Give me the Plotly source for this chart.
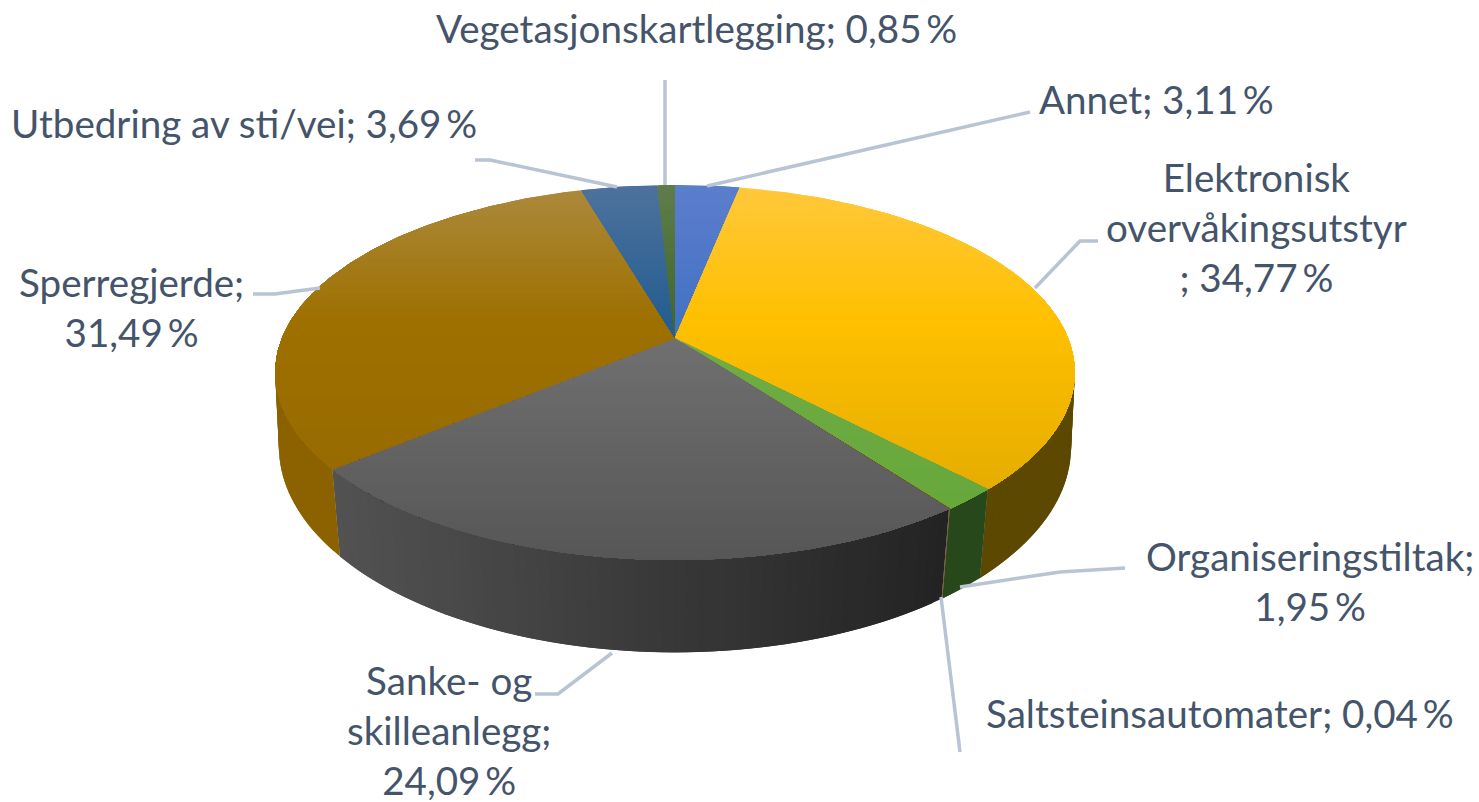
import numpy as np
import plotly.graph_objects as go

# ---- data -----------------------------------------------------------
categories = ["Annet", "Elektronisk overvåkingsutstyr", "Organiseringstiltak",
              "Saltsteinsautomater", "Sanke- og skilleanlegg", "Sperregjerde",
              "Utbedring av sti/vei", "Vegetasjonskartlegging"]
values = [3.11, 34.77, 1.95, 0.04, 24.09, 31.49, 3.69, 0.85]
label_names = ["Annet;", "Elektronisk<br>overvåkingsutstyr<br>;", "Organiseringstiltak;<br>",
               "Saltsteinsautomater;", "Sanke- og<br>skilleanlegg;<br>", "Sperregjerde;<br>",
               "Utbedring av sti/vei;", "Vegetasjonskartlegging;"]
label_x = [1156, 1256, 1310, 1220, 449, 131, 244, 696]
label_y = [99, 227, 581, 713, 730, 307, 123, 28]

# ---- styles (top gradient: far edge, middle, near edge) ---------------
top_colors = [
    ((92, 126, 204), (68, 114, 196), (60, 105, 185)),
    ((255, 200, 60), (255, 192, 0), (219, 165, 0)),
    ((128, 190, 95), (112, 173, 71), (100, 166, 56)),
    ((150, 90, 40), (140, 80, 35), (130, 75, 30)),
    ((125, 125, 125), (114, 114, 114), (86, 86, 86)),
    ((172, 138, 62), (158, 112, 0), (148, 104, 0)),
    ((78, 114, 156), (37, 94, 145), (30, 88, 145)),
    ((95, 125, 75), (67, 104, 43), (67, 104, 43)),
]
wall_left = [(38, 68, 120), (92, 72, 0), (38, 72, 26), (120, 70, 30),
             (82, 82, 82), (140, 98, 0), (22, 56, 90), (40, 62, 26)]
wall_right = [(38, 68, 120), (92, 72, 0), (38, 72, 26), (120, 70, 30),
              (35, 35, 35), (125, 86, 0), (22, 56, 90), (40, 62, 26)]
TEXT = "#44546A"
LEADER = "#B8C4D4"
FONT = "Lato"
FONT_SIZE = 38.6

# perspective projection of the pie discs: (cx, C, k, A, B)
TOP_DISC = (675, 393, 0.184, -119, 338)
BOT_DISC = (675, 391, 0.160, -134, 414)
Y_FAR, Y_MID, Y_NEAR = 185, 320, 560


def project(theta, r, disc):
    cx, c, k, a, b = disc
    u, v = r * np.sin(theta), r * np.cos(theta)
    d = 1 + k * v
    return cx + c * u / d, (a * v + b) / d


def rgb(c):
    return "rgb(%d,%d,%d)" % tuple(int(round(x)) for x in c)


def mix(p, q, t):
    return tuple(a + (b - a) * t for a, b in zip(p, q))


def clip_below(xs, ys, y0):
    """Keep the part of a convex polygon with y >= y0."""
    ox, oy = [], []
    n = len(xs)
    for i in range(n):
        x1, y1, x2, y2 = xs[i], ys[i], xs[(i + 1) % n], ys[(i + 1) % n]
        if y1 >= y0:
            ox.append(x1); oy.append(y1)
        if (y1 >= y0) != (y2 >= y0):
            t = (y0 - y1) / (y2 - y1)
            ox.append(x1 + t * (x2 - x1)); oy.append(y0)
    return ox, oy


fig = go.Figure()


def poly(xs, ys, color):
    fig.add_trace(go.Scatter(x=list(xs), y=list(ys), mode="lines", fill="toself",
                             fillcolor=color, line=dict(width=0, color=color),
                             hoverinfo="skip", showlegend=False))


fractions = np.array(values) / sum(values)
edges = np.concatenate([[0], np.cumsum(fractions)]) * 2 * np.pi

# walls
for i in range(len(values)):
    a0, a1 = edges[i], edges[i + 1]
    n = max(1, int(np.degrees(a1 - a0) / 1.5))
    steps = np.linspace(a0, a1, n + 1)
    xl = project(a0, 1, TOP_DISC)[0]
    xr = project(a1, 1, TOP_DISC)[0]
    for j in range(n):
        s0, s1 = steps[j], steps[min(j + 2, n)]
        if np.cos((steps[j] + steps[j + 1]) / 2) > 0.35:
            continue
        arc = np.linspace(s0, s1, 6)
        tx, ty = project(arc, 1, TOP_DISC)
        bx, by = project(arc[::-1], 1, BOT_DISC)
        xm = project((steps[j] + steps[j + 1]) / 2, 1, TOP_DISC)[0]
        lo, hi = min(xl, xr), max(xl, xr)
        t = 0 if hi == lo else np.clip((xm - lo) / (hi - lo), 0, 1)
        poly(np.r_[tx, bx], np.r_[ty, by], rgb(mix(wall_left[i], wall_right[i], t)))

# top faces, painted band after band from the far edge towards the viewer
for i in range(len(values)):
    arc = np.linspace(edges[i], edges[i + 1], max(3, int(np.degrees(edges[i + 1] - edges[i])) + 2))
    ax, ay = project(arc, 1, TOP_DISC)
    cx0, cy0 = project(0.0, 0.0, TOP_DISC)
    px, py = np.r_[cx0, ax], np.r_[cy0, ay]
    far, mid, near = top_colors[i]
    for y0 in np.arange(np.floor(py.min() / 6) * 6, py.max(), 6):
        xs, ys = clip_below(list(px), list(py), y0)
        if len(xs) < 3:
            continue
        yc = y0 + 3
        if yc < Y_MID:
            c = mix(far, mid, (yc - Y_FAR) / (Y_MID - Y_FAR))
        else:
            c = mix(mid, near, (yc - Y_MID) / (Y_NEAR - Y_MID))
        poly(xs, ys, rgb(c))

# leader lines
leaders = [
    [(1030, 112), (707, 186)],
    [(1098, 241), (1080, 241), (1035, 288)],
    [(1125, 568), (1060, 572), (960, 587)],
    [(960, 752), (941, 597)],
    [(612, 653), (558, 694), (535, 694)],
    [(253, 294), (275, 294), (320, 288)],
    [(475, 160), (490, 160), (617, 187)],
    [(665, 80), (665, 185)],
]
shapes = []
for pts in leaders:
    path = "M " + " L ".join(f"{x},{y}" for x, y in pts)
    shapes.append(dict(type="path", path=path, xref="x", yref="y", layer="above",
                       line=dict(color=LEADER, width=3.5)))

# labels
annotations = []
for name, v, x, y in zip(label_names, values, label_x, label_y):
    sep = "" if name.endswith("<br>") else " "
    text = f"{name}{sep}{v:.2f}".replace(".", ",") + "\u2009%"
    annotations.append(dict(x=x, y=y, xref="x", yref="y", text=text, showarrow=False,
                            xanchor="center", yanchor="middle", align="center",
                            font=dict(family=FONT, size=FONT_SIZE, color=TEXT)))

fig.update_layout(
    width=1479, height=802, margin=dict(l=0, r=0, t=0, b=0),
    paper_bgcolor="white", plot_bgcolor="white", showlegend=False,
    xaxis=dict(range=[0, 1479], visible=False, fixedrange=True),
    yaxis=dict(range=[802, 0], visible=False, fixedrange=True),
    shapes=shapes, annotations=annotations,
)
fig.write_html("out.html", config=dict(displayModeBar=False),
               post_script="document.body.style.margin='0';document.body.style.overflow='hidden';")
